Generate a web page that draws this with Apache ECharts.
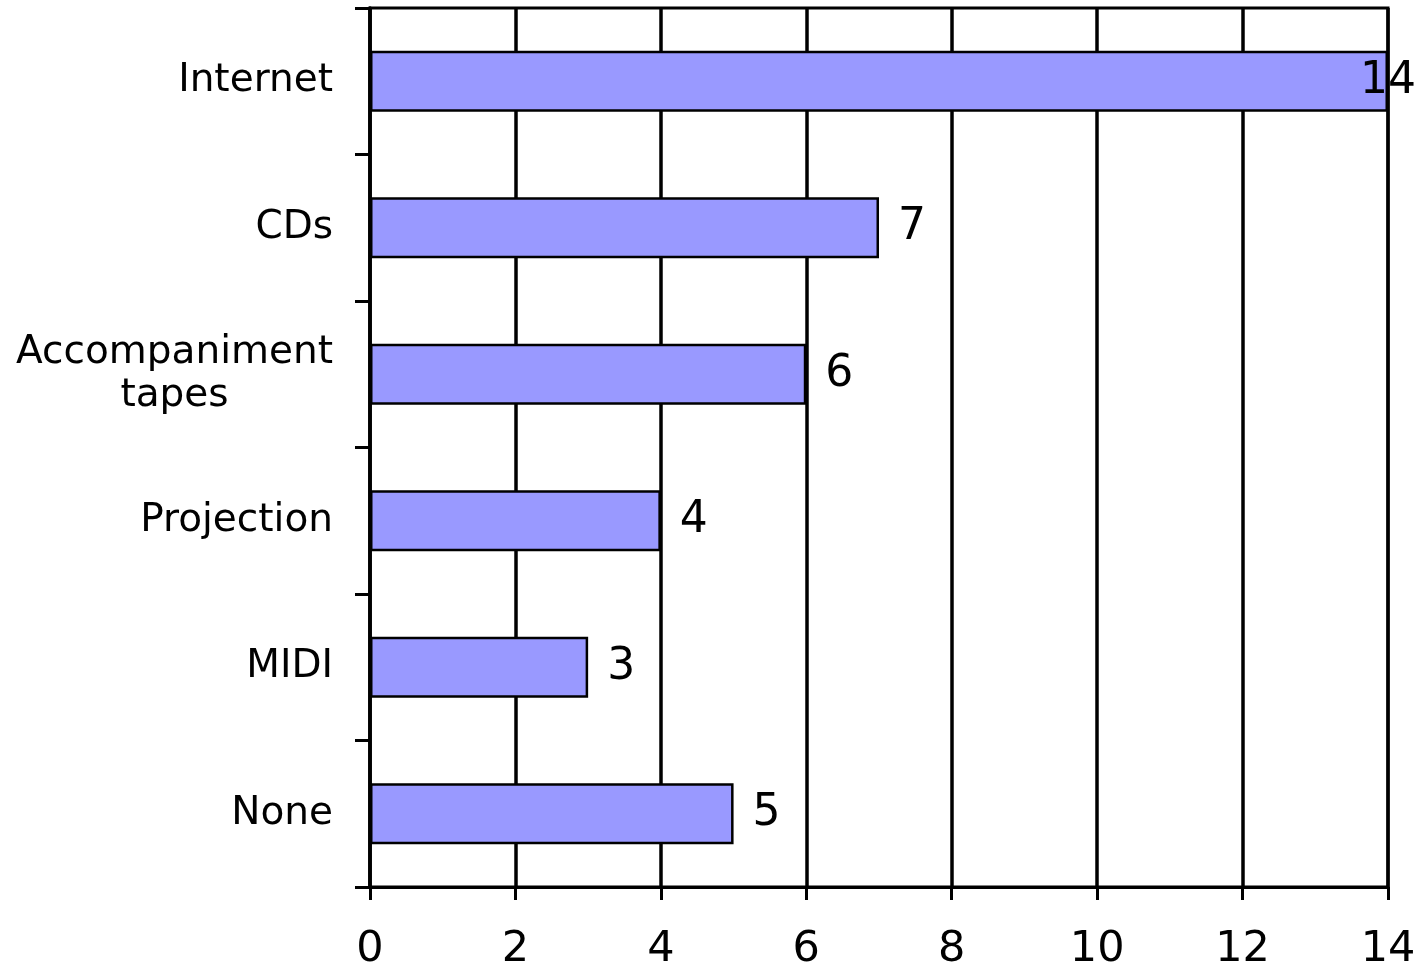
<!DOCTYPE html>
<html>
<head>
<meta charset="utf-8">
<script src="https://cdn.jsdelivr.net/npm/echarts@6/dist/echarts.min.js"></script>
<style>
  html, body { margin: 0; padding: 0; background: #fff; }
  #chart { width: 1421px; height: 967px; }
</style>
</head>
<body>
<div id="chart"></div>
<script>
const categories = ['Internet', 'CDs', 'Accompaniment\ntapes', 'Projection', 'MIDI', 'None'];
const values = [14, 7, 6, 4, 3, 5];
const xTicks = { min: 0, max: 14, interval: 2 };

const chart = echarts.init(document.getElementById('chart'), null, { renderer: 'canvas' });
const FONT = 'DejaVu Sans';

const seriesData = values.map(function (v) {
  if (v >= xTicks.max) {
    return { value: v, label: { offset: [-47, 0] } };
  }
  return v;
});

chart.setOption({
  backgroundColor: '#ffffff',
  animation: false,
  grid: {
    left: 370, right: 33, top: 8, bottom: 80,
    containLabel: false, outerBoundsMode: 'none',
    show: true, borderColor: '#000', borderWidth: 3, backgroundColor: 'transparent'
  },
  xAxis: {
    type: 'value',
    min: xTicks.min, max: xTicks.max, interval: xTicks.interval,
    axisLine: { show: true, lineStyle: { color: '#000', width: 3 } },
    axisTick: { show: true, inside: false, length: 13, lineStyle: { color: '#000', width: 3 } },
    axisLabel: { color: '#000', fontFamily: FONT, fontSize: 43, margin: 41 },
    splitLine: { show: true, lineStyle: { color: '#000', width: 3.5 } }
  },
  yAxis: {
    type: 'category',
    inverse: true,
    data: categories,
    axisLine: { show: true, lineStyle: { color: '#000', width: 3.5 } },
    axisTick: { show: true, length: 15, alignWithLabel: false, lineStyle: { color: '#000', width: 3 } },
    axisLabel: {
      color: '#000', fontFamily: FONT, fontSize: 39, margin: 37,
      formatter: function (val) {
        return val.split('\n').map(function (s) { return '{c|' + s + '}'; }).join('\n');
      },
      rich: { c: { align: 'center', fontFamily: FONT, fontSize: 39, color: '#000', lineHeight: 43 } }
    },
    splitLine: { show: false }
  },
  series: [{
    type: 'bar',
    data: seriesData,
    barWidth: 61,
    itemStyle: { color: '#9999FF', borderColor: '#000', borderWidth: 2.5 },
    label: {
      show: true, position: 'right', distance: 19,
      color: '#000', fontFamily: FONT, fontSize: 44
    }
  }]
});
</script>
</body>
</html>
